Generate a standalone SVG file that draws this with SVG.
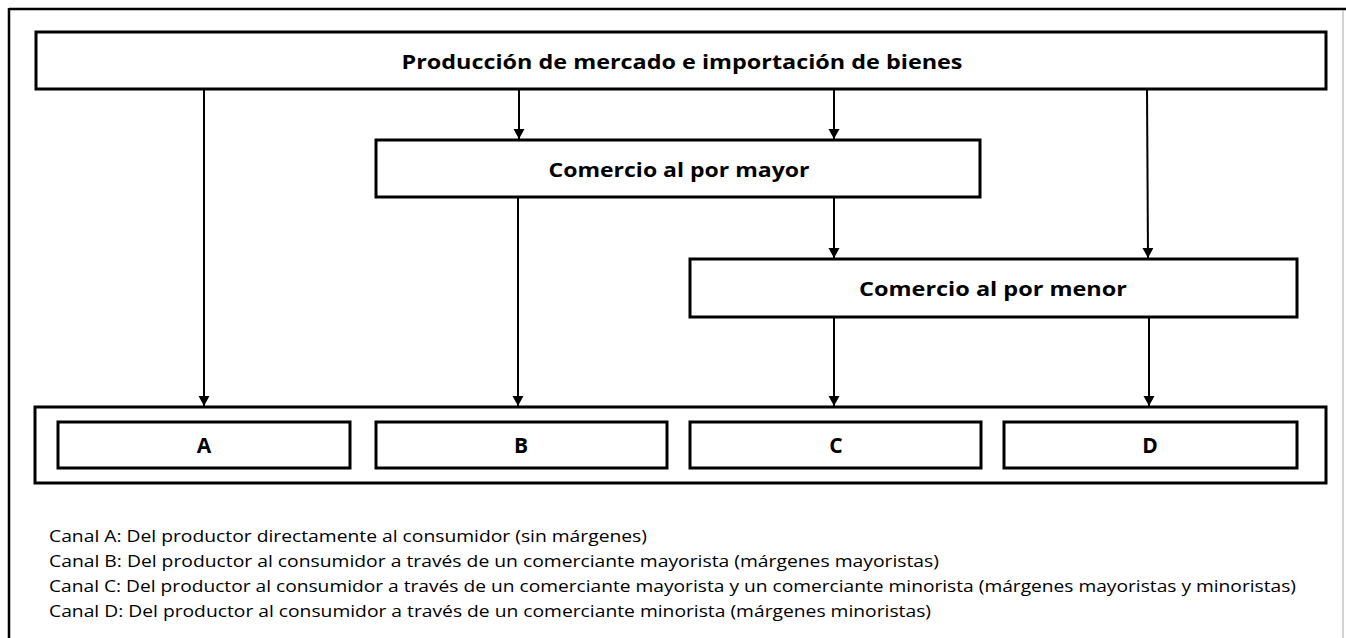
<svg xmlns="http://www.w3.org/2000/svg" width="1346" height="638" viewBox="0 0 1346 638">
<style>
.box{fill:#fff;stroke:#000;stroke-width:3}
.lbl{font-family:"Open Sans","Noto Sans","Liberation Sans",sans-serif;font-weight:bold;font-size:19px;fill:#000;text-anchor:middle}
.let{font-size:21px}
.leg{font-family:"Open Sans","Noto Sans","Liberation Sans",sans-serif;font-size:17px;fill:#000}
.arr{stroke:#000;stroke-width:2;fill:none;marker-end:url(#ah)}
</style>
<defs>
<marker id="ah" markerWidth="12" markerHeight="12" refX="10" refY="5.5" orient="auto" markerUnits="userSpaceOnUse">
<path d="M0,0 L10,5.5 L0,11 Z" fill="#000"/>
</marker>
</defs>
<rect width="1346" height="638" fill="#fff"/>
<g id="frame">
<line x1="9" y1="9" x2="1346" y2="9" stroke="#000" stroke-width="2.5"/>
<line x1="9" y1="8" x2="9" y2="638" stroke="#000" stroke-width="2.5"/>
<line x1="1343" y1="10" x2="1343" y2="638" stroke="#aaa" stroke-width="1"/>
</g>
<g id="connectors">
<line class="arr" x1="204" y1="89" x2="204" y2="406"/>
<line class="arr" x1="519" y1="89" x2="519" y2="139"/>
<line class="arr" x1="834" y1="89" x2="834" y2="139"/>
<line class="arr" x1="518" y1="197" x2="518" y2="406"/>
<line class="arr" x1="834" y1="197" x2="834" y2="258"/>
<line class="arr" x1="1147" y1="89" x2="1148" y2="258"/>
<line class="arr" x1="834" y1="317" x2="834" y2="406"/>
<line class="arr" x1="1149" y1="317" x2="1149" y2="406"/>
</g>
<g id="produccion">
<rect class="box" x="36" y="32" width="1290" height="57"/>
<text class="lbl" x="682" y="69" textLength="561" lengthAdjust="spacingAndGlyphs">Producción de mercado e importación de bienes</text>
</g>
<g id="mayor">
<rect class="box" x="376" y="140" width="604" height="57"/>
<text class="lbl" x="679" y="177" textLength="261" lengthAdjust="spacingAndGlyphs">Comercio al por mayor</text>
</g>
<g id="menor">
<rect class="box" x="690" y="259" width="607" height="58"/>
<text class="lbl" x="993" y="296" textLength="268" lengthAdjust="spacingAndGlyphs">Comercio al por menor</text>
</g>
<g id="consumidor">
<rect class="box" x="35" y="407" width="1291" height="76"/>
</g>
<g id="A">
<rect class="box" x="58" y="422" width="292" height="46"/>
<text class="lbl let" x="204" y="453">A</text>
</g>
<g id="B">
<rect class="box" x="376" y="422" width="291" height="46"/>
<text class="lbl let" x="521" y="453">B</text>
</g>
<g id="C">
<rect class="box" x="690" y="422" width="291" height="46"/>
<text class="lbl let" x="836" y="453">C</text>
</g>
<g id="D">
<rect class="box" x="1004" y="422" width="293" height="46"/>
<text class="lbl let" x="1150" y="453">D</text>
</g>
<g id="legend">
<text class="leg" x="49" y="542" textLength="598" lengthAdjust="spacingAndGlyphs">Canal A: Del productor directamente al consumidor (sin márgenes)</text>
<text class="leg" x="49" y="567" textLength="890" lengthAdjust="spacingAndGlyphs">Canal B: Del productor al consumidor a través de un comerciante mayorista (márgenes mayoristas)</text>
<text class="leg" x="49" y="592" textLength="1247" lengthAdjust="spacingAndGlyphs">Canal C: Del productor al consumidor a través de un comerciante mayorista y un comerciante minorista (márgenes mayoristas y minoristas)</text>
<text class="leg" x="49" y="617" textLength="882" lengthAdjust="spacingAndGlyphs">Canal D: Del productor al consumidor a través de un comerciante minorista (márgenes minoristas)</text>
</g>
</svg>
